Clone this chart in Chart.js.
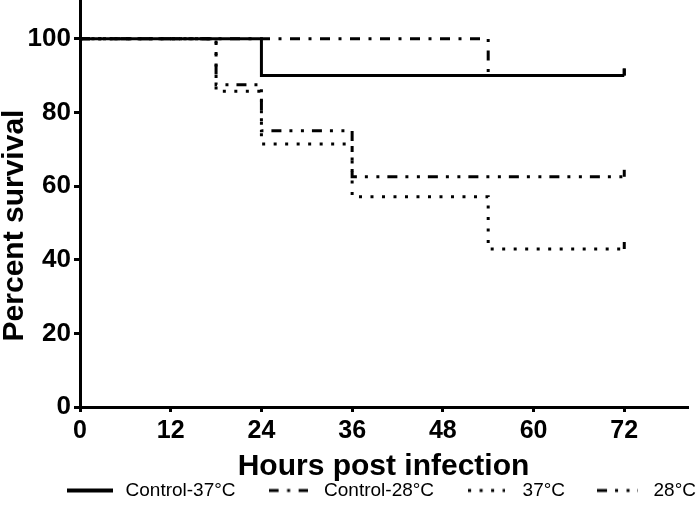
<!DOCTYPE html>
<html>
<head>
<meta charset="utf-8">
<script src="https://cdn.jsdelivr.net/npm/chart.js@4/dist/chart.umd.min.js"></script>
<style>
  html, body { margin: 0; padding: 0; background: #ffffff; }
  #wrap { width: 700px; height: 519px; position: relative; }
</style>
</head>
<body>
<div id="wrap"><canvas id="c"></canvas></div>
<script>
// ---- Data ----
const seriesNames = ["Control-37\u00B0C", "Control-28\u00B0C", "37\u00B0C", "28\u00B0C"];

const hoursControl37 = [0, 24, 72];
const survivalControl37 = [100, 90, 90];

const hoursControl28 = [0, 54, 72];
const survivalControl28 = [100, 90, 90];

const hours37 = [0, 18, 24, 36, 54, 72];
const survival37 = [100, 85.7, 71.4, 57.1, 42.9, 42.9];

const hours28 = [0, 18, 24, 36, 72];
const survival28 = [100, 87.5, 75, 62.5, 62.5];

const xTickValues = [0, 12, 24, 36, 48, 60, 72];
const yTickValues = [0, 20, 40, 60, 80, 100];

// ---- styles ----
const dashPatterns = [[], [10, 8.5, 3, 8.5], [3, 8.5], [10, 8, 3, 8.5, 3, 8]];
const sampleWidths = [46, 39, 37, 41];

function toPoints(xs, ys) { return xs.map((x, i) => ({ x: x, y: ys[i] })); }
function censorRadius(xs) { return xs.map((x, i) => (i === xs.length - 1 ? 7 : 0)); }

function makeSample(width, dash, lw) {
  const c = document.createElement('canvas');
  c.width = width; c.height = 6;
  const g = c.getContext('2d');
  g.strokeStyle = '#000'; g.lineWidth = lw; g.setLineDash(dash);
  g.beginPath(); g.moveTo(0, 3); g.lineTo(width, 3); g.stroke();
  return c;
}
const legendSamples = dashPatterns.map((d, i) => makeSample(sampleWidths[i], d, i === 0 ? 4 : 3));

function makeSet(label, xs, ys, dash, order) {
  return {
    label: label,
    data: toPoints(xs, ys),
    stepped: 'before',
    borderColor: '#000',
    backgroundColor: '#000',
    borderWidth: 3,
    borderDash: dash,
    borderCapStyle: 'butt',
    fill: false,
    pointStyle: 'dash',
    rotation: -90,
    pointRadius: censorRadius(xs),
    pointHoverRadius: censorRadius(xs),
    pointBorderWidth: 3,
    pointBorderColor: '#000',
    order: order
  };
}

const datasets = [
  makeSet(seriesNames[0], hoursControl37, survivalControl37, dashPatterns[0], 0),
  makeSet(seriesNames[1], hoursControl28, survivalControl28, dashPatterns[1], 1),
  makeSet(seriesNames[2], hours37, survival37, dashPatterns[2], 2),
  makeSet(seriesNames[3], hours28, survival28, dashPatterns[3], 3)
];

const FONT = "'Liberation Sans', Arial, Helvetica, sans-serif";

// shift the y-axis title slightly downward, as in the original figure
const yTitleShift = {
  id: 'yTitleShift',
  afterLayout(chart) {
    const s = chart.scales.y;
    if (s && !s._titleShifted) {
      const orig = s.drawTitle;
      s.drawTitle = function () {
        const ctx = this.ctx;
        ctx.save();
        ctx.translate(0, 22);
        orig.apply(this, arguments);
        ctx.restore();
      };
      s._titleShifted = true;
    }
  }
};

new Chart(document.getElementById('c'), {
  type: 'line',
  data: { datasets: datasets },
  plugins: [yTitleShift],
  options: {
    responsive: true,
    maintainAspectRatio: false,
    animation: false,
    devicePixelRatio: 1,
    layout: { autoPadding: false, padding: { top: 0, right: -22, left: 0, bottom: 9 } },
    plugins: {
      tooltip: { enabled: false },
      legend: {
        position: 'bottom',
        align: 'end',
        labels: {
          usePointStyle: true,
          pointStyleWidth: 53,
          padding: 26,
          color: '#000',
          font: { family: FONT, size: 19, weight: 'normal' },
          generateLabels: function (chart) {
            const items = Chart.defaults.plugins.legend.labels.generateLabels(chart);
            return items.map(function (it) {
              it.pointStyle = legendSamples[it.datasetIndex];
              it.rotation = 0;
              return it;
            });
          }
        }
      }
    },
    scales: {
      x: {
        type: 'linear',
        min: 0,
        max: 80.3,
        afterBuildTicks: function (axis) { axis.ticks = xTickValues.map(v => ({ value: v })); },
        afterFit: function (axis) { axis.height = 48; axis.paddingRight = 13; axis.paddingLeft = 0; },
        ticks: {
          color: '#000',
          padding: 4,
          font: { family: FONT, size: 25, weight: 'bold' }
        },
        grid: { display: true, drawOnChartArea: false, drawTicks: true, tickLength: 5, color: '#000', lineWidth: 3 },
        border: { display: true, color: '#000', width: 3 },
        title: {
          display: true,
          text: 'Hours post infection',
          color: '#000',
          padding: { top: 0, bottom: -27 },
          font: { family: FONT, size: 30, weight: 'bold', lineHeight: 1.0 }
        }
      },
      y: {
        type: 'linear',
        min: 0,
        max: 110.5,
        afterBuildTicks: function (axis) { axis.ticks = yTickValues.map(v => ({ value: v })); },
        afterFit: function (axis) { axis.width = 80; axis.paddingTop = 0; axis.paddingBottom = 0; },
        ticks: {
          color: '#000',
          padding: 3,
          font: { family: FONT, size: 26, weight: 'bold' }
        },
        grid: { display: true, drawOnChartArea: false, drawTicks: true, tickLength: 6, color: '#000', lineWidth: 3 },
        border: { display: true, color: '#000', width: 3 },
        title: {
          display: true,
          text: 'Percent survival',
          color: '#000',
          padding: { top: 0, bottom: 0 },
          font: { family: FONT, size: 30, weight: 'bold', lineHeight: 1.0 }
        }
      }
    }
  }
});
</script>
</body>
</html>
